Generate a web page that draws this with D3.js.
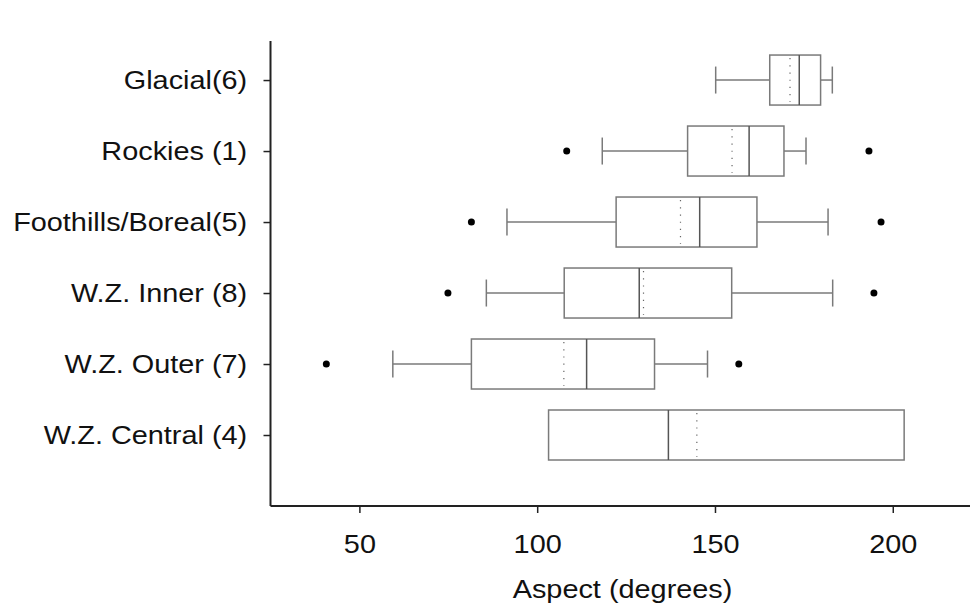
<!DOCTYPE html>
<html>
<head>
<meta charset="utf-8">
<script src="https://cdn.jsdelivr.net/npm/d3@7"></script>
<style>
  html, body { margin: 0; padding: 0; background: #fff; }
  svg { display: block; }
  text { font-family: "Liberation Sans", Arial, sans-serif; fill: #111; }
</style>
</head>
<body>
<svg id="chart" width="970" height="609"></svg>
<script>
// ---- data ----
const categories = ["Glacial(6)", "Rockies (1)", "Foothills/Boreal(5)", "W.Z. Inner (8)", "W.Z. Outer (7)", "W.Z. Central (4)"];
const whiskerLow  = [150.2, 118.3,  91.5,  85.7,  59.4, 103.2];
const q1          = [165.4, 142.3, 122.2, 107.6,  81.5, 103.2];
const median      = [173.7, 159.6, 145.7, 128.7, 113.9, 136.9];
const mean        = [171.1, 154.8, 140.3, 129.9, 107.5, 144.9];
const q3          = [179.7, 169.4, 161.8, 154.7, 133.0, 203.2];
const whiskerHigh = [183.0, 175.6, 181.8, 183.1, 147.9, 203.2];
const outliers    = [[], [108.3, 193.3], [81.5, 196.7], [74.9, 194.7], [40.7, 156.7], []];
const xTicks = [50, 100, 150, 200];
const xTitle = "Aspect (degrees)";

const rows = categories.map((c, i) => ({
  cat: c, idx: i,
  lo: whiskerLow[i], q1: q1[i], med: median[i], mean: mean[i], q3: q3[i], hi: whiskerHigh[i],
  out: outliers[i]
}));

// ---- layout ----
const svg = d3.select("#chart");
const pLeft = 270.5, pRight = 971, pTop = 41, pBottom = 506;
const x = d3.scaleLinear().domain([25, 222]).range([pLeft, pRight]);
const y = d3.scaleLinear().domain([-0.55, 6]).range([pTop, pBottom]);
const boxH = 50, capH = 27;
const grey = "#7a7a7a";
const fontSize = 26, stretch = "scale(1.11,1)";
const fontFam = "'Liberation Sans', Arial, sans-serif";

// axes
const xAxis = svg.append("g").attr("transform", `translate(0,${pBottom})`)
  .call(d3.axisBottom(x).tickValues(xTicks).tickSize(7).tickPadding(22).tickFormat(d3.format("d")));
xAxis.select(".domain").attr("d", `M${pLeft},0H${pRight}`).attr("stroke", "#222").attr("stroke-width", 2);
xAxis.selectAll(".tick line").attr("stroke", "#222").attr("stroke-width", 1.5);
xAxis.selectAll(".tick text").attr("font-size", fontSize).attr("fill", "#111")
  .attr("font-family", fontFam).attr("transform", stretch);

const yAxis = svg.append("g").attr("transform", `translate(${pLeft},0)`)
  .call(d3.axisLeft(y).tickValues(d3.range(categories.length)).tickSize(7).tickPadding(14)
    .tickFormat(i => categories[i]));
yAxis.select(".domain").attr("d", `M0,${pTop}V${pBottom}`).attr("stroke", "#222").attr("stroke-width", 2);
yAxis.selectAll(".tick line").attr("stroke", "#222").attr("stroke-width", 1.5);
yAxis.selectAll(".tick text").attr("font-size", fontSize).attr("fill", "#111")
  .attr("font-family", fontFam).attr("transform", stretch);

svg.append("g").attr("transform", `translate(${x(124)},598)`)
  .append("text").attr("text-anchor", "middle").attr("transform", stretch)
  .attr("font-size", fontSize).text(xTitle);

// boxes
const g = svg.append("g");
const b = g.selectAll("g.box").data(rows).join("g").attr("class", "box");

// whiskers
b.filter(d => d.lo < d.q1).append("line")
  .attr("x1", d => x(d.lo)).attr("x2", d => x(d.q1))
  .attr("y1", d => y(d.idx)).attr("y2", d => y(d.idx))
  .attr("stroke", grey).attr("stroke-width", 1.5);
b.filter(d => d.hi > d.q3).append("line")
  .attr("x1", d => x(d.q3)).attr("x2", d => x(d.hi))
  .attr("y1", d => y(d.idx)).attr("y2", d => y(d.idx))
  .attr("stroke", grey).attr("stroke-width", 1.5);
b.filter(d => d.lo < d.q1).append("line")
  .attr("x1", d => x(d.lo)).attr("x2", d => x(d.lo))
  .attr("y1", d => y(d.idx) - capH / 2).attr("y2", d => y(d.idx) + capH / 2)
  .attr("stroke", grey).attr("stroke-width", 1.5);
b.filter(d => d.hi > d.q3).append("line")
  .attr("x1", d => x(d.hi)).attr("x2", d => x(d.hi))
  .attr("y1", d => y(d.idx) - capH / 2).attr("y2", d => y(d.idx) + capH / 2)
  .attr("stroke", grey).attr("stroke-width", 1.5);

// box
b.append("rect")
  .attr("x", d => x(d.q1)).attr("width", d => x(d.q3) - x(d.q1))
  .attr("y", d => y(d.idx) - boxH / 2).attr("height", boxH)
  .attr("fill", "#fff").attr("stroke", grey).attr("stroke-width", 1.5);

// mean (dotted)
b.append("line")
  .attr("x1", d => x(d.mean)).attr("x2", d => x(d.mean))
  .attr("y1", d => y(d.idx) - boxH / 2 + 3).attr("y2", d => y(d.idx) + boxH / 2 - 3)
  .attr("stroke", "#666").attr("stroke-width", 1.2).attr("stroke-dasharray", "1.2,6");

// median
b.append("line")
  .attr("x1", d => x(d.med)).attr("x2", d => x(d.med))
  .attr("y1", d => y(d.idx) - boxH / 2).attr("y2", d => y(d.idx) + boxH / 2)
  .attr("stroke", "#555").attr("stroke-width", 1.5);

// outliers
b.selectAll("circle").data(d => d.out.map(v => ({ v, idx: d.idx }))).join("circle")
  .attr("cx", d => x(d.v)).attr("cy", d => y(d.idx)).attr("r", 3.5).attr("fill", "#000");
</script>
</body>
</html>
